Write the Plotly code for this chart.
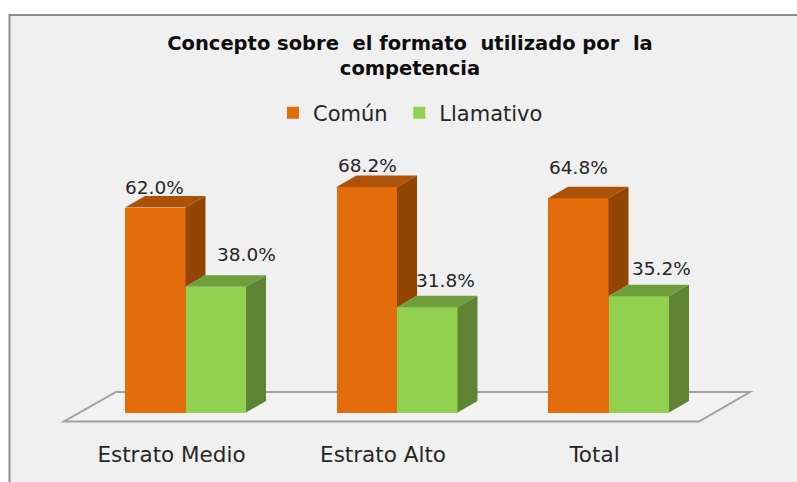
import plotly.graph_objects as go

categories = ["Estrato Medio", "Estrato Alto", "Total"]
comun = [62.0, 68.2, 64.8]
llamativo = [38.0, 31.8, 35.2]

comun_labels = ["62.0%", "68.2%", "64.8%"]
llamativo_labels = ["38.0%", "31.8%", "35.2%"]

# pixel scale of the picture, the axes below are set so these hold
WIDTH, HEIGHT = 797, 482
BOTTOM_MARGIN = 43
GROUP_PX = 211.5
UNIT_PX = 3.306
CENTER0_PX = 185.5
BASE_PX = 412.5

bar_w = 60.5 / GROUP_PX
depth_x = 20.0 / GROUP_PX
depth_y = 11.5 / UNIT_PX

ORANGE, ORANGE_TOP, ORANGE_SIDE = "#E46C0A", "#AE5207", "#934604"
GREEN, GREEN_TOP, GREEN_SIDE = "#92D050", "#6F9F3D", "#5E8434"
BG = "#F0F0F0"
FRAME = "#8C8C8C"
FLOOR = "#A0A0A0"
TEXT = "#262626"
FONT = "DejaVu Sans"


def px_x(px):
    return (px - CENTER0_PX) / GROUP_PX


def px_y(px):
    return (BASE_PX - px) / UNIT_PX


def poly(fig, xs, ys, color):
    fig.add_trace(go.Scatter(
        x=xs + xs[:1], y=ys + ys[:1], mode="lines", fill="toself",
        fillcolor=color, line=dict(width=0), showlegend=False, hoverinfo="skip",
    ))


fig = go.Figure()

groups = list(range(len(categories)))
# the non-breaking space only widens the gap between the two legend entries
fig.add_trace(go.Bar(
    name="Común\u00a0", x=[g - bar_w / 2 for g in groups], y=comun, width=bar_w,
    marker=dict(color=ORANGE, line=dict(width=0)),
))
fig.add_trace(go.Bar(
    name="Llamativo", x=[g + bar_w / 2 for g in groups], y=llamativo, width=bar_w,
    marker=dict(color=GREEN, line=dict(width=0)),
))

for g, c, l in zip(groups, comun, llamativo):
    left, mid, right = g - bar_w, g, g + bar_w
    # orange top and the part of its side that shows above the green bar
    poly(fig, [left, left + depth_x, mid + depth_x, mid], [c, c + depth_y, c + depth_y, c], ORANGE_TOP)
    poly(fig, [mid, mid + depth_x, mid + depth_x, mid], [c, c + depth_y, l + depth_y, l], ORANGE_SIDE)
    # green top and side
    poly(fig, [mid, mid + depth_x, right + depth_x, right], [l, l + depth_y, l + depth_y, l], GREEN_TOP)
    poly(fig, [right, right + depth_x, right + depth_x, right], [l, l + depth_y, depth_y, 0], GREEN_SIDE)

# value labels sit off the bars by hand in the original
comun_shift = [(-0.5, 20), (1, 22), (0, 31)]
llamativo_shift = [(31, 32), (18, 27), (23, 28)]
annotations = []
for g, vals, texts, shifts, sign in [
    (groups, comun, comun_labels, comun_shift, -1),
    (groups, llamativo, llamativo_labels, llamativo_shift, 1),
]:
    for i, v, t, s in zip(g, vals, texts, shifts):
        annotations.append(dict(
            x=i + sign * bar_w / 2, y=v, text=t, showarrow=False,
            xshift=s[0], yshift=s[1], font=dict(family=FONT, size=18.5, color=TEXT),
        ))

plot_h = HEIGHT - BOTTOM_MARGIN
shapes = [
    dict(type="rect", xref="paper", yref="paper", layer="below",
         x0=9.5 / WIDTH, x1=1.02, y0=-0.2, y1=1 - 15 / plot_h,
         fillcolor=BG, line=dict(color=FRAME, width=2)),
    dict(type="path", xref="x", yref="y", layer="below",
         path="M {} {} L {} {} L {} {} L {} {} Z".format(
             px_x(64), px_y(421.5), px_x(699), px_y(421.5),
             px_x(750), px_y(392), px_x(116), px_y(392)),
         fillcolor="#F2F2F2", line=dict(color=FLOOR, width=2)),
]

fig.update_layout(
    width=WIDTH,
    height=HEIGHT,
    margin=dict(l=0, r=0, t=0, b=BOTTOM_MARGIN),
    paper_bgcolor="white",
    plot_bgcolor="rgba(0,0,0,0)",
    barmode="overlay",
    bargap=0,
    shapes=shapes,
    annotations=annotations,
    font=dict(family=FONT, color=TEXT),
    title=dict(
        text="<b>Concepto sobre  el formato  utilizado por  la<br>competencia</b>",
        x=410 / WIDTH, xanchor="center", y=1 - 50 / HEIGHT, yanchor="middle",
        font=dict(family=FONT, size=19.5, color="#0D0D0D"),
    ),
    legend=dict(
        orientation="h", x=273 / WIDTH, xanchor="left", y=1 - 113 / plot_h, yanchor="middle",
        bgcolor="rgba(0,0,0,0)", font=dict(family=FONT, size=21, color=TEXT),
    ),
    xaxis=dict(
        range=[px_x(0), px_x(WIDTH)],
        tickvals=[g - 14 / GROUP_PX for g in groups],
        ticktext=categories,
        showgrid=False, zeroline=False, showline=False, ticks="",
        tickfont=dict(family=FONT, size=21.5, color=TEXT),
    ),
    yaxis=dict(
        range=[px_y(plot_h), px_y(0)],
        visible=False,
    ),
)

# the page's default body margin would push the whole figure 8px in
fig.write_html(
    "out.html",
    config=dict(displayModeBar=False),
    post_script="document.body.style.margin='0';document.body.style.overflow='hidden';",
)
